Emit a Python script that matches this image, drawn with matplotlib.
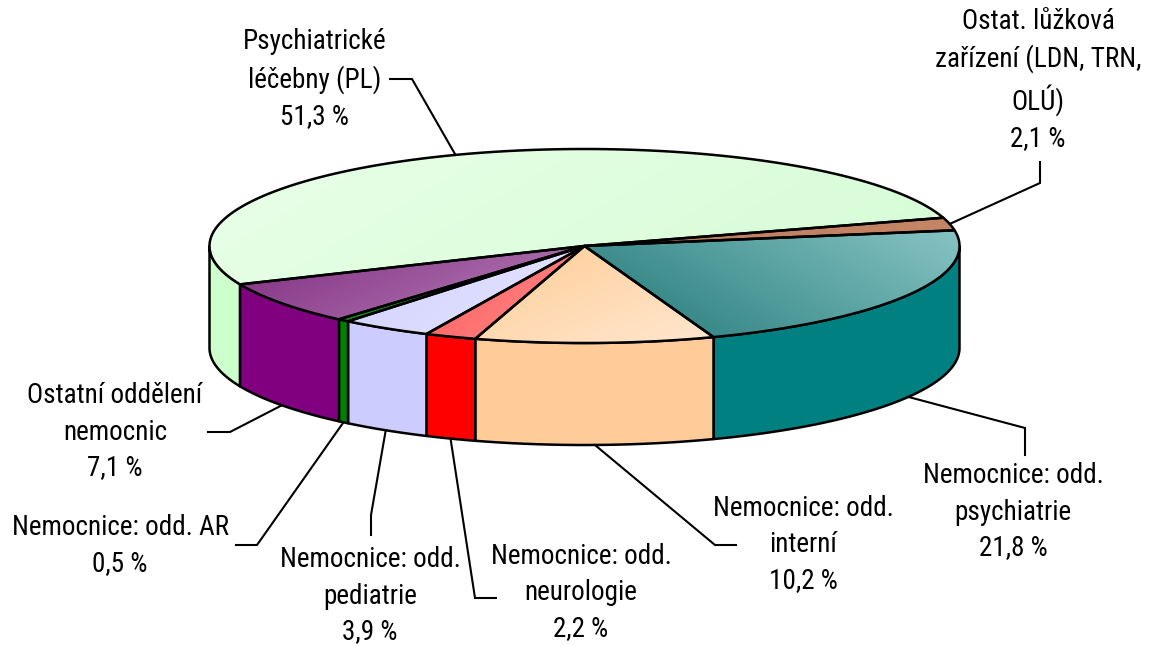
import numpy as np
import matplotlib
matplotlib.use("Agg")
import matplotlib.pyplot as plt
from matplotlib.patches import Polygon
from matplotlib import font_manager
from matplotlib.colors import to_rgb

# data, in drawing order (clockwise)
labels = ["Psychiatrické\nléčebny (PL)",
          "Ostat. lůžková\nzařízení (LDN, TRN,\nOLÚ)",
          "Nemocnice: odd.\npsychiatrie",
          "Nemocnice: odd.\ninterní",
          "Nemocnice: odd.\nneurologie",
          "Nemocnice: odd.\npediatrie",
          "Nemocnice: odd. AR",
          "Ostatní oddělení\nnemocnic"]
shares = [51.3, 2.1, 21.8, 10.2, 2.2, 3.9, 0.5, 7.1]

side_colors = ["#CCFFCC", "#A8603F", "#008080", "#FFCC99", "#FF0000", "#CCCCFF", "#007F00", "#800080"]
# top faces: (dark, light, direction dark->light in pixel coords)
top_fills = [("#D8FCD8", "#E6FFE6", (-0.6, -1.0)),
             ("#BE7C5E", "#C48666", (1.0, 0.0)),
             ("#3A8A8A", "#86C3C3", (0.6, -1.0)),
             ("#FFD3A3", "#FFE6CD", (0.4, 1.0)),
             ("#FF6C6C", "#FF7A7A", (1.0, 1.0)),
             ("#D6D6FF", "#E0E0FF", (1.0, 1.0)),
             ("#1A8A1A", "#2A9A2A", (1.0, 1.0)),
             ("#883A88", "#A868A8", (0.5, 1.0))]

# label layout (text centre, leader elbow)
text_pos = [(315, 79), (1038, 80), (1013, 512), (803, 545),
            (581, 593), (370, 596), (120, 546), (115, 432)]
elbows = [[(412, 79), (390, 79)],
          [(1040, 183), (1040, 162)],
          [(1025, 428), (1025, 455)],
          [(715, 545), (736, 545)],
          [(475, 598), (496, 598)],
          [(371, 515), (371, 535)],
          [(257, 545), (236, 545)],
          [(230, 432), (208, 432)]]

# pie geometry in pixels
CX, CY, RX, RY, DEPTH = 584.5, 246, 375, 97, 102
START = 203.3

# pick a narrow font if one is there
font, stretch, fsize = "Liberation Sans", "normal", 16
for fam, st, fs in [("Liberation Sans Narrow", "normal", 19.5),
                    ("Arial Narrow", "normal", 19.5),
                    ("Roboto Condensed", "normal", 19.5),
                    ("DejaVu Sans", "condensed", 17),
                    ("Open Sans Condensed", "normal", 19)]:
    try:
        p = font_manager.findfont(font_manager.FontProperties(family=fam, stretch=st),
                                  fallback_to_default=False)
        if st == "normal" or "ondensed" in p:
            font, stretch, fsize = fam, st, fs
            break
    except Exception:
        pass
plt.rcParams["font.family"] = [font, "DejaVu Sans"]
plt.rcParams["font.stretch"] = stretch

fig = plt.figure(figsize=(11.58, 6.46), dpi=100)
ax = fig.add_axes([0, 0, 1, 1])
ax.set_xlim(0, 1158)
ax.set_ylim(646, 0)
ax.axis("off")

frac = np.array(shares) / np.sum(shares)
bounds = START - 360 * np.concatenate([[0], np.cumsum(frac)])


def arc(t0, t1, dy=0, n=None):
    n = n or max(int(abs(t1 - t0)) * 2, 4)
    t = np.radians(np.linspace(t0, t1, n))
    return np.column_stack([CX + RX * np.cos(t), CY - RY * np.sin(t) + dy])


LW = 1.8
for i in range(len(shares)):
    hi, lo = bounds[i], bounds[i + 1]
    # side wall, only the front half
    for k in (-1, 0, 1):
        a, b = max(lo, -180 + 360 * k), min(hi, 360 * k)
        if b > a:
            pts = np.vstack([arc(a, b), arc(b, a, DEPTH)])
            ax.add_patch(Polygon(pts, closed=True, facecolor=side_colors[i],
                                 edgecolor="black", lw=LW, joinstyle="round", zorder=2))
    # top face with gradient
    pts = np.vstack([[[CX, CY]], arc(hi, lo)])
    poly = Polygon(pts, closed=True, facecolor="none", edgecolor="black",
                   lw=LW, joinstyle="round", zorder=4)
    ax.add_patch(poly)
    x0, y0 = pts.min(axis=0)
    x1, y1 = pts.max(axis=0)
    gx, gy = np.meshgrid(np.linspace(x0, x1, 120), np.linspace(y0, y1, 60))
    d = np.array(top_fills[i][2], float)
    proj = gx * d[0] + gy * d[1]
    pv = pts @ d
    s = np.clip((proj - pv.min()) / max(pv.max() - pv.min(), 1e-9), 0, 1)[..., None]
    c0, c1 = np.array(to_rgb(top_fills[i][0])), np.array(to_rgb(top_fills[i][1]))
    img = ax.imshow(c0 * (1 - s) + c1 * s, extent=(x0, x1, y1, y0), origin="upper",
                    interpolation="bilinear", aspect="auto", zorder=3)
    clip = Polygon(pts, closed=True, transform=ax.transData)
    img.set_clip_path(clip)

    # leader line from mid angle
    mid = (hi + lo) / 2
    m = np.radians(mid)
    ax_pt = (CX + RX * np.cos(m), CY - RY * np.sin(m) + (DEPTH if np.sin(m) < 0 else 0))
    line = np.array([ax_pt] + elbows[i])
    ax.plot(line[:, 0], line[:, 1], color="black", lw=1.5, zorder=5,
            solid_joinstyle="miter")
    pct = f"{shares[i]:.1f}".replace(".", ",") + " %"
    ax.text(text_pos[i][0], text_pos[i][1], labels[i] + "\n" + pct, ha="center",
            va="center", fontsize=fsize, linespacing=1.43, multialignment="center", zorder=6)

ax.set_xlim(0, 1158)
ax.set_ylim(646, 0)
fig.savefig("out.png", dpi=100, facecolor="white")
